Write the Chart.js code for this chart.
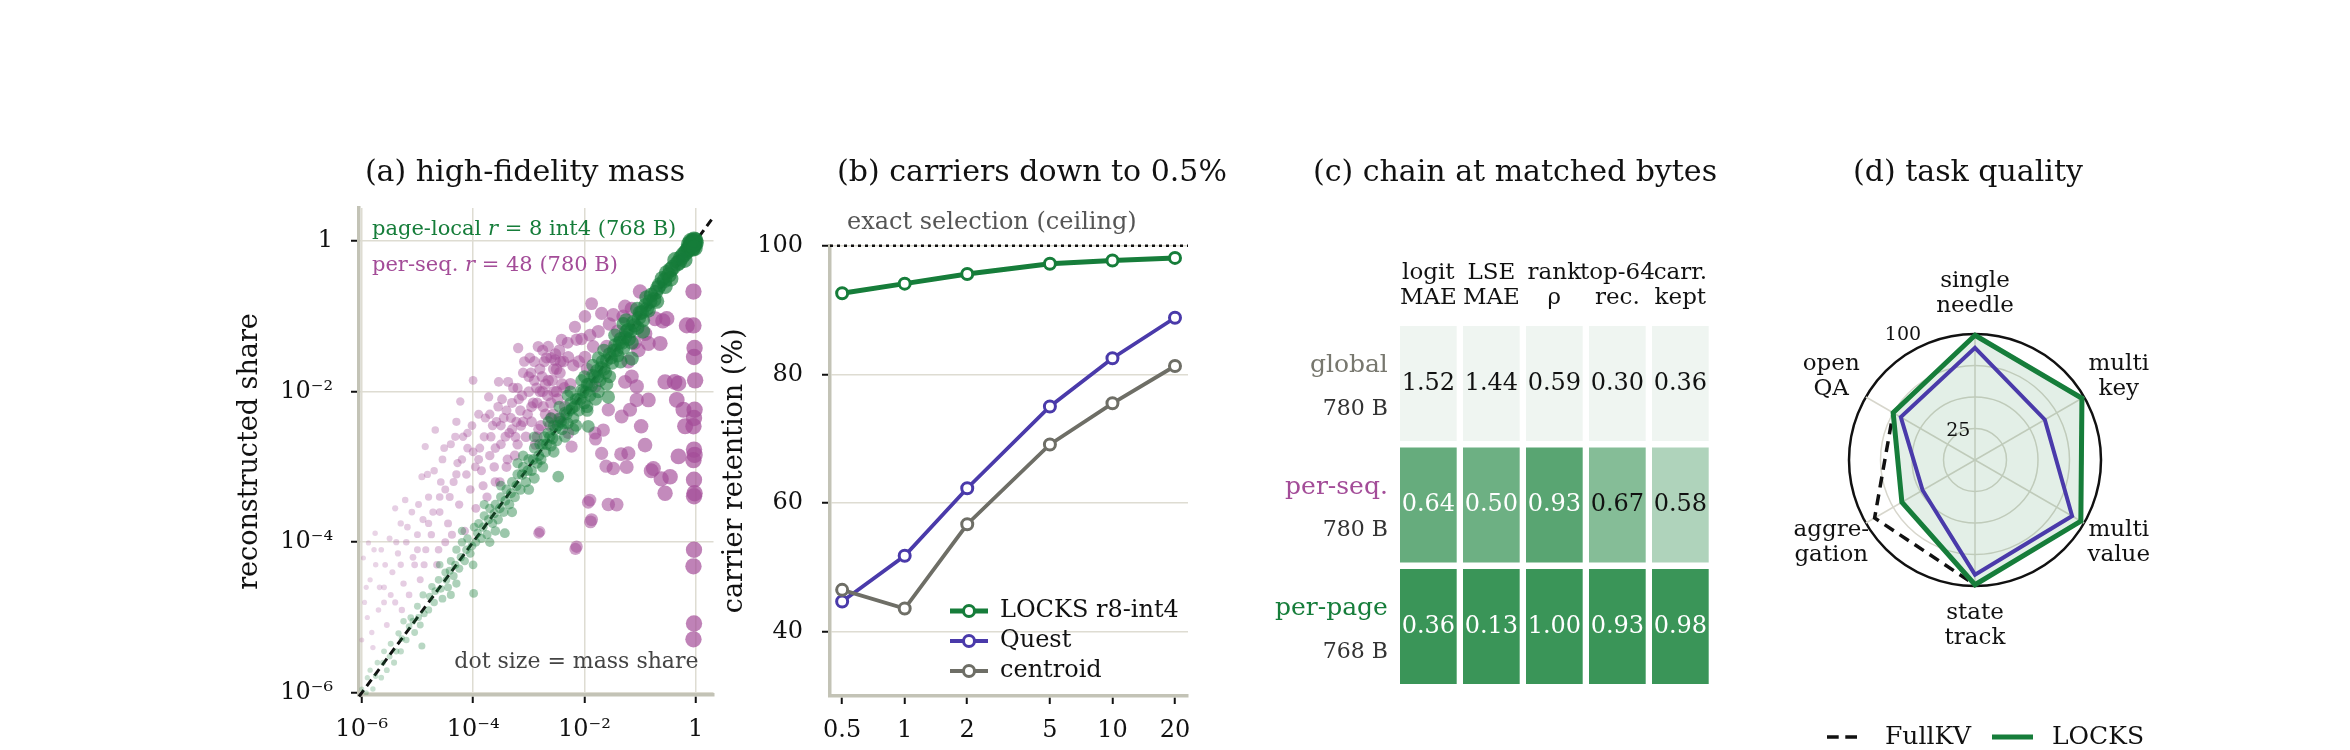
<!DOCTYPE html>
<html>
<head>
<meta charset="utf-8">
<script src="https://cdn.jsdelivr.net/npm/chart.js@4.4.1/dist/chart.umd.min.js"></script>
<style>
  body { margin: 0; background: #fff; }
  #fig { position: relative; width: 2350px; height: 750px; background: #fff; }
  canvas { position: absolute; top: 0; }
</style>
</head>
<body>
<div id="fig">
  <canvas id="massChart" width="560" height="750" style="left:180px"></canvas>
  <canvas id="carrierChart" width="540" height="750" style="left:700px"></canvas>
  <canvas id="chainChart" width="520" height="750" style="left:1240px"></canvas>
  <canvas id="taskChart" width="400" height="750" style="left:1780px"></canvas>
</div>
<script>
// ---------- (a) reconstructed vs true mass share, as log10 pairs [true, reconstructed]
const PAGE_LOCAL_LOG = [
  [-6.0,-5.95],[-5.92,-6.0],[-5.85,-5.7],[-5.8,-5.95],[-5.72,-5.6],[-5.65,-5.8],[-5.6,-5.45],[-5.55,-5.7],
  [-5.48,-5.35],[-5.42,-5.6],[-5.34,-5.21],[-5.3,-5.45],[-5.25,-5.05],[-5.2,-5.3],[-5.12,-5.0],[-5.05,-5.2],
  [-5.0,-4.85],[-4.95,-5.1],[-4.92,-5.38],[-4.9,-4.7],[-4.8,-4.9],[-4.74,-4.59],[-4.7,-4.8],[-4.62,-4.5],
  [-4.55,-4.75],[-4.5,-4.4],[-4.45,-4.6],[-4.4,-4.25],[-4.35,-4.45],[-4.3,-4.1],[-4.25,-4.35],[-4.2,-4.0],
  [-4.15,-4.25],[-4.1,-3.95],[-4.05,-4.15],[-3.99,-4.68],[-3.98,-3.8],[-3.95,-4.0],[-3.9,-3.75],[-3.85,-3.95],
  [-3.8,-3.65],[-3.75,-3.9],[-3.7,-3.55],[-3.65,-3.75],[-3.6,-3.5],[-3.55,-3.7],[-3.5,-3.4],[-3.45,-3.6],
  [-3.43,-3.88],[-3.4,-3.3],[-3.35,-3.5],[-3.3,-3.2],[-3.25,-3.4],[-3.2,-3.1],[-3.15,-3.3],[-3.1,-3.0],
  [-3.05,-3.2],[-3.0,-2.9],[-2.95,-3.05],[-2.9,-2.75],[-2.85,-2.95],[-2.8,-2.7],[-2.78,-2.9],[-2.72,-2.6],
  [-2.7,-2.8],[-2.65,-2.55],[-2.6,-2.72],[-2.55,-2.45],[-2.5,-2.65],[-2.47,-3.13],[-2.45,-2.35],[-2.4,-2.5],
  [-2.35,-2.28],[-2.3,-2.42],[-2.25,-2.15],[-2.2,-2.35],[-2.15,-2.1],[-2.1,-2.25],[-2.05,-1.98],[-2.0,-2.15],
  [-1.95,-1.9],[-1.93,-2.46],[-1.9,-2.05],[-1.85,-1.78],[-1.8,-2.1],[-1.78,-1.72],[-1.72,-1.85],[-1.68,-1.6],
  [-1.62,-1.75],[-1.57,-2.07],[-1.55,-1.5],[-1.5,-1.62],[-1.45,-1.38],[-1.4,-1.52],[-1.35,-1.3],[-1.3,-1.42],
  [-1.25,-1.2],[-1.2,-1.3],[-1.15,-1.56],[-1.12,-1.08],[-1.05,-1.15],[-1.0,-0.95],[-0.95,-1.05],[-0.9,-0.85],
  [-0.85,-0.92],[-0.8,-0.72],[-0.72,-0.68],[-0.65,-0.58],[-0.6,-0.5],[-0.52,-0.42],[-0.45,-0.38],[-0.37,-0.25],
  [-0.3,-0.28],[-0.22,-0.18],[-0.15,-0.12],[-0.1,-0.06],[-0.07,-0.02],[-0.05,-0.08],[-0.04,0.0],[-0.02,-0.04],
  [-0.01,0.01],[0.0,-0.02],
  [-5.9,-5.8],[-5.75,-5.78],[-5.62,-5.6],[-5.5,-5.52],[-5.38,-5.45],[-5.28,-5.28],[-5.15,-5.12],[-5.08,-5.05],
  [-4.98,-5.0],[-4.88,-4.95],[-4.78,-4.72],[-4.68,-4.65],[-4.58,-4.62],[-4.48,-4.5],[-4.42,-4.38],[-4.32,-4.3],
  [-4.22,-4.2],[-4.12,-4.1],[-4.02,-4.05],[-3.92,-3.88],[-3.82,-3.8],[-3.72,-3.7],[-3.62,-3.62],[-3.52,-3.55],
  [-3.42,-3.45],[-3.32,-3.35],[-3.22,-3.25],[-3.12,-3.1],[-3.02,-3.05],[-2.92,-2.9],[-2.82,-2.85],[-2.75,-2.7],
  [-2.68,-2.7],[-2.62,-2.6],[-2.57,-2.62],[-2.52,-2.5],[-2.48,-2.45],[-2.42,-2.4],[-2.38,-2.42],[-2.32,-2.3],
  [-2.27,-2.25],[-2.22,-2.22],[-2.18,-2.2],[-2.12,-2.1],[-2.07,-2.1],[-2.02,-2.0],[-1.97,-2.0],[-1.92,-1.9],
  [-1.87,-1.92],[-1.82,-1.8],[-1.76,-1.8],[-1.7,-1.68],[-1.65,-1.7],[-1.6,-1.58],[-1.52,-1.55],[-1.47,-1.45],
  [-1.42,-1.45],[-1.37,-1.35],[-1.32,-1.35],[-1.27,-1.28],[-1.22,-1.18],[-1.17,-1.2],[-1.1,-1.12],[-1.02,-1.02],
  [-0.97,-0.95],[-0.88,-0.9],[-0.82,-0.8],[-0.75,-0.78],[-0.68,-0.62],[-0.56,-0.52],[-0.48,-0.45],[-0.41,-0.35],
  [-0.33,-0.3],[-0.26,-0.22],[-0.18,-0.15],[-0.12,-0.1],[-0.08,-0.05],[-0.03,-0.03],[-2.6,-2.35],[-2.3,-2.05],
  [-2.0,-1.8],[-1.75,-1.55],[-2.9,-3.15],[-2.2,-2.5],[-1.6,-1.9],[-1.3,-1.1],[-1.95,-2.2],[-3.6,-3.85],
  [-4.3,-4.55],[-3.1,-2.85],
  [-4.6,-4.3],[-4.4,-4.7],[-4.2,-3.85],[-4.0,-4.3],[-3.8,-3.5],[-3.7,-4.0],[-3.5,-3.25],[-3.3,-3.6],
  [-3.2,-2.95],[-3.0,-3.3],[-2.9,-2.6],[-2.75,-3.0],[-2.65,-2.4],[-2.55,-2.8],[-2.45,-2.2],[-2.35,-2.6],
  [-2.25,-2.0],[-2.15,-2.45],[-2.05,-1.85],[-1.95,-2.25],[-1.85,-1.65],[-1.75,-2.0],[-1.65,-1.45],[-1.55,-1.8],
  [-1.45,-1.25],[-1.35,-1.6],[-1.25,-1.05],[-1.15,-1.35],[-1.05,-0.9],[-0.95,-1.2],[-0.88,-0.75],[-0.7,-0.8],
  [-0.55,-0.6],[-0.45,-0.5],[-0.2,-0.25],[-0.06,-0.1],[-0.09,0.0],[-0.03,0.02],[-0.12,-0.04],[-0.02,-0.09]
];
const PER_SEQ_LOG = [
  [-6.0,-5.3],[-5.97,-4.21],[-5.95,-4.8],[-5.9,-5.0],[-5.88,-4.01],[-5.85,-4.5],[-5.8,-5.4],[-5.76,-3.88],
  [-5.75,-4.3],[-5.7,-4.9],[-5.65,-4.1],[-5.6,-4.6],[-5.55,-5.1],[-5.5,-3.95],[-5.45,-4.4],[-5.4,-3.55],
  [-5.4,-4.8],[-5.35,-4.15],[-5.3,-3.75],[-5.25,-4.55],[-5.22,-3.44],[-5.2,-4.0],[-5.15,-4.7],[-5.1,-3.6],
  [-5.05,-4.3],[-5.0,-3.9],[-4.95,-4.5],[-4.92,-3.13],[-4.9,-3.7],[-4.86,-2.73],[-4.85,-4.1],[-4.8,-3.4],
  [-4.75,-3.9],[-4.7,-3.05],[-4.68,-2.51],[-4.65,-4.3],[-4.6,-3.6],[-4.55,-2.9],[-4.5,-3.3],[-4.5,-4.0],
  [-4.45,-3.75],[-4.4,-2.7],[-4.35,-3.2],[-4.3,-2.4],[-4.25,-3.5],[-4.23,-2.13],[-4.2,-2.9],[-4.15,-3.85],
  [-4.1,-2.55],[-4.05,-3.3],[-4.0,-1.85],[-4.0,-2.8],[-3.95,-3.55],[-3.9,-2.3],[-3.85,-3.05],[-3.8,-2.6],
  [-3.75,-3.4],[-3.72,-2.07],[-3.7,-2.85],[-3.65,-2.45],[-3.6,-3.2],[-3.55,-2.2],[-3.54,-1.87],[-3.5,-2.7],
  [-3.45,-2.35],[-3.4,-3.0],[-3.37,-1.87],[-3.35,-2.55],[-3.3,-2.15],[-3.25,-2.85],[-3.22,-2.4],[-3.2,-1.95],
  [-3.19,-1.42],[-3.15,-2.25],[-3.1,-1.75],[-3.05,-2.6],[-3.0,-2.0],[-2.98,-1.55],[-2.95,-2.4],[-2.9,-1.85],
  [-2.88,-2.7],[-2.85,-2.15],[-2.83,-1.4],[-2.8,-1.7],[-2.78,-2.45],[-2.75,-2.0],[-2.72,-1.6],[-2.7,-2.3],
  [-2.65,-1.4],[-2.65,-1.85],[-2.6,-2.15],[-2.55,-1.7],[-2.53,-1.58],[-2.5,-2.0],[-2.45,-1.45],[-2.41,-1.31],
  [-2.4,-1.9],[-2.35,-2.2],[-2.82,-3.88],[-2.80,-3.86],[-2.29,-1.54],[-2.29,-2.55],[-2.23,-2.73],[-2.17,-1.14],
  [-2.16,-4.09],[-2.14,-1.31],[-2.14,-4.06],[-1.99,-1.0],[-1.99,-1.54],[-1.93,-3.47],[-1.9,-3.44],[-1.89,-3.73],
  [-1.87,-0.83],[-1.87,-3.70],[-1.84,-1.40],[-1.81,-1.93],[-1.81,-2.55],[-1.80,-2.63],[-1.69,-0.96],[-1.69,-2.82],
  [-1.66,-2.51],[-1.61,-2.99],[-1.57,-2.24],[-1.57,-3.50],[-1.48,-0.98],[-1.48,-3.02],[-1.42,-3.50],[-1.34,-2.83],
  [-1.33,-2.33],[-1.27,-0.87],[-1.27,-1.87],[-1.24,-3.0],[-1.21,-1.60],[-1.21,-2.82],[-1.18,-2.24],[-1.15,-1.80],
  [-1.06,-1.93],[-1.06,-2.11],[-1.03,-1.45],[-1.0,-0.67],[-0.98,-2.46],[-0.91,-1.23],[-0.91,-2.71],[-0.85,-1.36],
  [-0.85,-2.11],[-0.80,-3.05],[-0.76,-3.02],[-0.73,-1.03],[-0.64,-1.36],[-0.62,-3.16],[-0.59,-1.06],[-0.55,-1.87],
  [-0.55,-3.35],[-0.52,-1.03],[-0.46,-3.13],[-0.38,-1.87],[-0.34,-2.11],[-0.31,-1.89],[-0.31,-2.86],[-0.22,-2.24],
  [-0.19,-2.46],[-0.16,-1.12],
  [-0.04,-0.67],[-0.04,-1.12],[-0.02,-1.42],[-0.03,-1.54],[-0.01,-1.85],[-0.02,-2.24],[-0.03,-2.35],[-0.04,-2.46],
  [-0.03,-2.77],[-0.02,-2.84],[-0.04,-2.91],[-0.03,-3.17],[-0.02,-3.35],[-0.03,-3.39],[-0.03,-4.10],[-0.04,-4.32],
  [-0.03,-5.08],[-0.04,-5.29],
  [-3.12,-2.05],[-3.08,-1.6],[-3.02,-2.3],[-2.96,-1.75],[-2.92,-2.15],[-2.86,-1.95],[-2.82,-2.5],[-2.76,-1.8],
  [-2.74,-2.2],[-2.68,-1.55],[-2.66,-2.05],[-2.62,-2.45],[-2.58,-1.85],[-2.56,-2.3],[-2.52,-1.5],[-2.48,-2.1],
  [-2.44,-1.75],[-2.42,-2.35],[-2.38,-1.6],[-2.36,-1.95],
  [-4.28,-2.95],[-4.18,-2.6],[-4.12,-3.1],[-4.02,-2.45],[-3.96,-3.0],[-3.88,-2.75],[-3.82,-3.25],[-3.78,-2.35],
  [-3.68,-2.6],[-3.62,-3.0],[-3.58,-2.4],[-3.52,-3.2],[-3.48,-2.1],[-3.42,-2.6],[-3.38,-2.9],[-3.32,-2.35],
  [-3.28,-1.95],[-3.24,-2.6],[-3.18,-2.1],[-3.14,-2.45],
  [-5.48,-4.7],[-5.38,-4.0],[-5.28,-4.9],[-5.18,-3.8],[-5.08,-4.2],[-4.98,-3.5],[-4.88,-4.3],[-4.82,-3.1],
  [-4.72,-3.6],[-4.62,-4.1],[-4.58,-3.2],[-4.52,-2.75],[-4.42,-3.4],[-4.38,-3.9],[-4.32,-2.6],[-5.58,-4.3],
  [-5.68,-4.6],[-5.78,-4.1],[-5.92,-4.6],[-5.82,-5.2],
  [-2.2,-1.65],[-2.05,-1.3],[-1.95,-1.7],[-1.75,-1.2],[-1.6,-1.4],[-1.55,-1.1],[-1.4,-1.2],[-1.3,-1.0],
  [-1.15,-0.9],[-1.1,-1.35],[-2.25,-1.9],[-1.9,-1.25],
  [-3.1,-2.4],[-3.0,-1.8],[-2.95,-2.2],[-2.9,-1.6],[-2.85,-2.6],[-2.8,-2.0],[-2.75,-1.45],[-2.7,-1.9],
  [-2.6,-1.55],[-2.6,-2.35],[-2.55,-2.0],[-2.5,-1.7],[-2.47,-2.4],[-2.43,-1.6],[-3.3,-2.5],[-3.5,-2.45],
  [-3.7,-2.3],[-3.9,-2.9],[-4.1,-2.75],[-4.3,-3.1],[-3.6,-2.75],[-3.4,-2.25],[-3.2,-2.7],[-4.6,-3.4],
  [-4.8,-3.75],[-5.0,-4.1],[-5.3,-4.3],[-5.6,-4.8],[-2.3,-1.35],[-2.1,-1.6]
];
const IDENTITY_LOG = [[-6.05,-6.05],[0.3,0.3]];
const MASS_TICKS = [1e-6, 1e-4, 1e-2, 1];
const MASS_TICK_LABELS = ['10⁻⁶', '10⁻⁴', '10⁻²', '1'];

// ---------- (b) carrier retention vs budget
const BUDGET_PCT = [0.5, 1, 2, 5, 10, 20];
const LOCKS_RET = [92.6, 94.1, 95.6, 97.2, 97.7, 98.1];
const QUEST_RET = [44.7, 51.8, 62.3, 75.0, 82.5, 88.8];
const CENTROID_RET = [46.5, 43.6, 56.7, 69.1, 75.5, 81.3];
const RET_TICKS = [40, 60, 80, 100];

// ---------- (c) chain at matched bytes
const METRICS = [['logit', 'MAE'], ['LSE', 'MAE'], ['rank', 'ρ'], ['top-64', 'rec.'], ['carr.', 'kept']];
const LOWER_IS_BETTER = [true, true, false, false, false];
const CHAINS = ['global', 'per-seq.', 'per-page'];
const CHAIN_BYTES = ['780 B', '780 B', '768 B'];
const GLOBAL_VALS = [1.52, 1.44, 0.59, 0.30, 0.36];
const PERSEQ_VALS = [0.64, 0.50, 0.93, 0.67, 0.58];
const PERPAGE_VALS = [0.36, 0.13, 1.00, 0.93, 0.98];

// ---------- (d) task quality
const TASKS = [['single', 'needle'], ['multi', 'key'], ['multi', 'value'], ['state', 'track'], ['aggre-', 'gation'], ['open', 'QA']];
const FULLKV_SCORE = [99, 98, 97, 99, 92, 75];
const LOCKS_SCORE = [99, 98, 97, 99, 67, 75];
const QUEST_SCORE = [89, 64, 89, 91, 48, 68];

// ---------- styling
const FONT = "'DejaVu Serif', serif";
const GREEN = '22,125,58';
const PURPLE = '163,76,152';
const INDIGO = '#4a3aaa';
const GREY = '#6e6e66';
const SPINE = '#c3c3b6';
const GRID = '#dedcd2';
Chart.defaults.font.family = FONT;
Chart.defaults.color = '#111';

const panelTitle = {
  id: 'panelTitle',
  afterDraw(chart, args, opts) {
    const ctx = chart.ctx;
    ctx.save();
    ctx.font = '30px ' + FONT;
    ctx.fillStyle = '#111';
    ctx.textAlign = 'center';
    ctx.textBaseline = 'middle';
    ctx.fillText(opts.text, opts.x, opts.y);
    ctx.restore();
  }
};

function drawRich(ctx, parts, x, y, size) {
  let cx = x;
  parts.forEach(([t, italic]) => {
    ctx.font = (italic ? 'italic ' : '') + size + 'px ' + FONT;
    ctx.fillText(t, cx, y);
    cx += ctx.measureText(t).width;
  });
}

const tickStyle = { color: GRID, lineWidth: 1.5, tickColor: '#111', tickWidth: 2, tickLength: 8 };
const commonOpts = { responsive: false, animation: false, events: [], devicePixelRatio: 1 };

// ================= (a)
const toPts = arr => arr.map(([lx, ly]) => ({ x: 10 ** lx, y: 10 ** ly }));
const dotRadius = v => 2.5 + 0.95 * (Math.log10(v) + 6);
const dotAlpha = v => 0.22 + 0.08 * (Math.log10(v) + 6);

const massNotes = {
  id: 'massNotes',
  afterDraw(chart) {
    const { ctx, chartArea: ca } = chart;
    ctx.save();
    ctx.textBaseline = 'middle';
    ctx.textAlign = 'left';
    ctx.fillStyle = `rgb(${GREEN})`;
    drawRich(ctx, [['page-local ', false], ['r', true], [' = 8 int4 (768 B)', false]], ca.left + 13, ca.top + 22, 21);
    ctx.fillStyle = `rgb(${PURPLE})`;
    drawRich(ctx, [['per-seq. ', false], ['r', true], [' = 48 (780 B)', false]], ca.left + 13, ca.top + 58, 21);
    ctx.fillStyle = '#444';
    ctx.textAlign = 'right';
    ctx.font = '22px ' + FONT;
    ctx.fillText('dot size = mass share', ca.right - 15, ca.bottom - 33);
    ctx.restore();
  }
};

new Chart(document.getElementById('massChart'), {
  type: 'scatter',
  data: {
    datasets: [
      {
        label: 'page-local r=8 int4',
        data: toPts(PAGE_LOCAL_LOG),
        pointRadius: c => dotRadius(c.raw.x),
        pointBackgroundColor: c => `rgba(${GREEN},${dotAlpha(c.raw.x)})`,
        pointBorderWidth: 0
      },
      {
        label: 'per-seq. r=48',
        data: toPts(PER_SEQ_LOG),
        pointRadius: c => dotRadius(c.raw.x),
        pointBackgroundColor: c => `rgba(${PURPLE},${dotAlpha(c.raw.x)})`,
        pointBorderWidth: 0
      },
      {
        label: 'y = x',
        data: toPts(IDENTITY_LOG),
        showLine: true,
        borderColor: '#111',
        borderWidth: 3,
        borderDash: [8, 5],
        pointRadius: 0,
        clip: false
      }
    ]
  },
  options: {
    ...commonOpts,
    layout: { padding: { left: 0, right: 26.5, top: 208, bottom: 0 }, autoPadding: false },
    plugins: {
      legend: { display: false },
      tooltip: { enabled: false },
      panelTitle: { text: '(a) high-fidelity mass', x: 345, y: 173 }
    },
    scales: {
      x: {
        type: 'logarithmic',
        min: 10 ** -6.05,
        max: 10 ** 0.32,
        afterBuildTicks: s => { s.ticks = MASS_TICKS.map(v => ({ value: v })); },
        afterFit: s => { s.height = 55; },
        ticks: { callback: (v, i) => MASS_TICK_LABELS[i], font: { size: 24 }, padding: 12, autoSkip: false, maxRotation: 0 },
        grid: tickStyle,
        border: { color: SPINE, width: 3.5 }
      },
      y: {
        type: 'logarithmic',
        min: 10 ** -6.03,
        max: 10 ** 0.44,
        afterBuildTicks: s => { s.ticks = MASS_TICKS.map(v => ({ value: v })); },
        afterFit: s => { s.width = 179; },
        ticks: { callback: (v, i) => MASS_TICK_LABELS[i], font: { size: 24 }, padding: 18, autoSkip: false },
        grid: tickStyle,
        border: { color: SPINE, width: 3.5 },
        title: { display: true, text: 'reconstructed share', font: { size: 27 }, padding: { top: 54, bottom: 0 } }
      }
    }
  },
  plugins: [panelTitle, massNotes]
});

// ================= (b)
const ceiling = {
  id: 'ceiling',
  beforeDatasetsDraw(chart) {
    const { ctx, chartArea: ca, scales } = chart;
    const y = scales.y.getPixelForValue(100);
    ctx.save();
    ctx.strokeStyle = '#111';
    ctx.lineWidth = 2.5;
    ctx.setLineDash([3, 4]);
    ctx.beginPath();
    ctx.moveTo(ca.left, y);
    ctx.lineTo(ca.right, y);
    ctx.stroke();
    ctx.setLineDash([]);
    ctx.fillStyle = '#555';
    ctx.font = '24px ' + FONT;
    ctx.textAlign = 'left';
    ctx.textBaseline = 'middle';
    ctx.fillText('exact selection (ceiling)', ca.left + 17, y - 23);
    ctx.restore();
  }
};

const retentionLegend = {
  id: 'retentionLegend',
  afterDraw(chart) {
    const { ctx, chartArea: ca } = chart;
    ctx.save();
    ctx.font = '24px ' + FONT;
    ctx.textBaseline = 'middle';
    ctx.textAlign = 'left';
    chart.data.datasets.forEach((ds, i) => {
      const y = ca.bottom - 85 + i * 30;
      const x0 = ca.right - 238;
      ctx.strokeStyle = ds.borderColor;
      ctx.lineWidth = ds.borderWidth;
      ctx.beginPath();
      ctx.moveTo(x0, y);
      ctx.lineTo(x0 + 38, y);
      ctx.stroke();
      ctx.lineWidth = ds.pointBorderWidth;
      ctx.fillStyle = '#fff';
      ctx.beginPath();
      ctx.arc(x0 + 19, y, ds.pointRadius, 0, Math.PI * 2);
      ctx.fill();
      ctx.stroke();
      ctx.fillStyle = '#111';
      ctx.fillText(ds.label, x0 + 50, y);
    });
    ctx.restore();
  }
};

const retSeries = (label, vals, color, width, order) => ({
  label,
  data: BUDGET_PCT.map((b, i) => ({ x: b, y: vals[i] })),
  borderColor: color,
  borderWidth: width,
  pointRadius: 5.5,
  pointBorderWidth: 3,
  pointBackgroundColor: '#fff',
  pointBorderColor: color,
  order
});

new Chart(document.getElementById('carrierChart'), {
  type: 'line',
  data: {
    datasets: [
      retSeries('LOCKS r8-int4', LOCKS_RET, `rgb(${GREEN})`, 5, 0),
      retSeries('Quest', QUEST_RET, INDIGO, 3.8, 2),
      retSeries('centroid', CENTROID_RET, GREY, 3.8, 1)
    ]
  },
  options: {
    ...commonOpts,
    layout: { padding: { left: 0, right: 52, top: 245.7, bottom: 0 }, autoPadding: false },
    plugins: {
      legend: { display: false },
      tooltip: { enabled: false },
      panelTitle: { text: '(b) carriers down to 0.5%', x: 332, y: 173 }
    },
    scales: {
      x: {
        type: 'logarithmic',
        min: 0.437,
        max: 23.1,
        afterBuildTicks: s => { s.ticks = BUDGET_PCT.map(v => ({ value: v })); },
        afterFit: s => { s.height = 54; },
        ticks: { callback: (v, i) => String(BUDGET_PCT[i]), font: { size: 24 }, padding: 12, autoSkip: false, maxRotation: 0 },
        grid: { ...tickStyle, drawOnChartArea: false },
        border: { color: SPINE, width: 3.5 }
      },
      y: {
        min: 30,
        max: 100,
        afterBuildTicks: s => { s.ticks = RET_TICKS.map(v => ({ value: v })); },
        afterFit: s => { s.width = 130; },
        ticks: { font: { size: 24 }, padding: 19 },
        grid: tickStyle,
        border: { color: SPINE, width: 3.5 },
        title: { display: true, text: 'carrier retention (%)', font: { size: 27 }, padding: { top: 19, bottom: 0 } }
      }
    }
  },
  plugins: [panelTitle, ceiling, retentionLegend]
});

// ================= (c)
const CELL_GAP = 0.0267;
const LIGHT = [239, 245, 241];
const DARK = [58, 149, 88];
const rowVals = [GLOBAL_VALS, PERSEQ_VALS, PERPAGE_VALS];
const goodness = (r, c) => {
  const col = rowVals.map(v => v[c]);
  const lo = Math.min(...col), hi = Math.max(...col);
  const v = rowVals[r][c];
  return LOWER_IS_BETTER[c] ? (hi - v) / (hi - lo) : (v - lo) / (hi - lo);
};
const shade = t => `rgb(${LIGHT.map((l, k) => Math.round(l + (DARK[k] - l) * t)).join(',')})`;

const cellText = {
  id: 'cellText',
  afterDatasetsDraw(chart) {
    const { ctx, chartArea: ca, scales } = chart;
    ctx.save();
    ctx.textAlign = 'center';
    ctx.textBaseline = 'middle';
    ctx.font = '24px ' + FONT;
    chart.data.datasets.forEach((ds, r) => {
      chart.getDatasetMeta(r).data.forEach((el, c) => {
        ctx.fillStyle = goodness(r, c) > 0.65 ? '#fff' : '#111';
        ctx.fillText(ds.values[c].toFixed(2), el.x, (el.y + el.base) / 2);
      });
    });
    const nameColors = ['#77776e', `rgb(${PURPLE})`, `rgb(${GREEN})`];
    ctx.textAlign = 'right';
    CHAINS.forEach((name, r) => {
      const cy = scales.y.getPixelForValue(r + 0.5);
      ctx.font = '25px ' + FONT;
      ctx.fillStyle = nameColors[r];
      ctx.fillText(name, ca.left - 9, cy - 18);
      ctx.font = '22px ' + FONT;
      ctx.fillStyle = '#333';
      ctx.fillText(CHAIN_BYTES[r], ca.left - 9, cy + 25.5);
    });
    ctx.restore();
  }
};

new Chart(document.getElementById('chainChart'), {
  type: 'bar',
  data: {
    labels: METRICS,
    datasets: CHAINS.map((name, r) => ({
      label: name,
      values: rowVals[r],
      data: rowVals[r].map(() => [r + CELL_GAP, r + 1 - CELL_GAP]),
      backgroundColor: rowVals[r].map((v, c) => shade(goodness(r, c))),
      borderWidth: 0,
      grouped: false,
      barPercentage: 0.9,
      categoryPercentage: 1
    }))
  },
  options: {
    ...commonOpts,
    layout: { padding: { left: 156.85, right: 48.15, top: 0, bottom: 62.75 }, autoPadding: false },
    plugins: {
      legend: { display: false },
      tooltip: { enabled: false },
      panelTitle: { text: '(c) chain at matched bytes', x: 275, y: 173 }
    },
    scales: {
      x: {
        position: 'top',
        afterFit: s => { s.height = 322.75; },
        ticks: { font: { size: 23, lineHeight: 1.087 }, padding: 12.5, maxRotation: 0, autoSkip: false },
        grid: { display: false, drawTicks: false },
        border: { display: false }
      },
      y: { display: false, min: 0, max: 3, reverse: true }
    }
  },
  plugins: [panelTitle, cellText]
});

// ================= (d)
const radarText = {
  id: 'radarText',
  afterDraw(chart) {
    const { ctx } = chart;
    const r = chart.scales.r;
    ctx.save();
    ctx.textAlign = 'center';
    ctx.textBaseline = 'middle';
    ctx.fillStyle = '#111';
    ctx.font = '23px ' + FONT;
    TASKS.forEach((lines, i) => {
      const p = r.getPointPosition(i, r.drawingArea + 40);
      ctx.fillText(lines[0], p.x, p.y - 12.5);
      ctx.fillText(lines[1], p.x, p.y + 12.5);
    });
    ctx.font = '19px ' + FONT;
    const ang = Math.PI / 6;
    [[25, 2], [100, 18]].forEach(([v, off]) => {
      const d = r.getDistanceFromCenterForValue(v) + off;
      ctx.fillText(String(v), r.xCenter - d * Math.sin(ang), r.yCenter - d * Math.cos(ang));
    });
    // legend
    ctx.font = '25px ' + FONT;
    ctx.textAlign = 'left';
    const ly = chart.height - 13;
    const cx = r.xCenter;
    ctx.strokeStyle = '#111';
    ctx.lineWidth = 3.5;
    ctx.setLineDash([11.7, 6.6]);
    ctx.beginPath(); ctx.moveTo(cx - 148, ly); ctx.lineTo(cx - 118, ly); ctx.stroke();
    ctx.setLineDash([]);
    ctx.fillText('FullKV', cx - 90, ly);
    ctx.strokeStyle = `rgb(${GREEN})`;
    ctx.lineWidth = 5;
    ctx.beginPath(); ctx.moveTo(cx + 17, ly); ctx.lineTo(cx + 58, ly); ctx.stroke();
    ctx.fillText('LOCKS', cx + 77, ly);
    ctx.restore();
  }
};

new Chart(document.getElementById('taskChart'), {
  type: 'radar',
  data: {
    labels: TASKS,
    datasets: [
      { label: 'Quest', data: QUEST_SCORE, borderColor: INDIGO, borderWidth: 4, fill: false, pointRadius: 0, order: 0 },
      { label: 'LOCKS', data: LOCKS_SCORE, borderColor: `rgb(${GREEN})`, borderWidth: 5,
        backgroundColor: `rgba(${GREEN},0.12)`, fill: true, pointRadius: 0, order: 1 },
      { label: 'FullKV', data: FULLKV_SCORE, borderColor: '#111', borderWidth: 3.5, borderDash: [11, 7],
        fill: false, pointRadius: 0, order: 2 }
    ]
  },
  options: {
    ...commonOpts,
    layout: { padding: { left: 69, right: 79, top: 334, bottom: 164 }, autoPadding: false },
    elements: { line: { tension: 0, borderJoinStyle: 'miter' } },
    plugins: {
      legend: { display: false },
      tooltip: { enabled: false },
      panelTitle: { text: '(d) task quality', x: 188, y: 173 }
    },
    scales: {
      r: {
        min: 0,
        max: 100,
        ticks: { display: false, stepSize: 25 },
        pointLabels: { display: false },
        grid: {
          circular: true,
          color: c => c.tick && c.tick.value === 100 ? '#111' : '#d7d6cc',
          lineWidth: c => c.tick && c.tick.value === 100 ? 2.5 : 1.5
        },
        angleLines: { color: '#d7d6cc', lineWidth: 1.5 }
      }
    }
  },
  plugins: [panelTitle, radarText]
});
</script>
</body>
</html>
